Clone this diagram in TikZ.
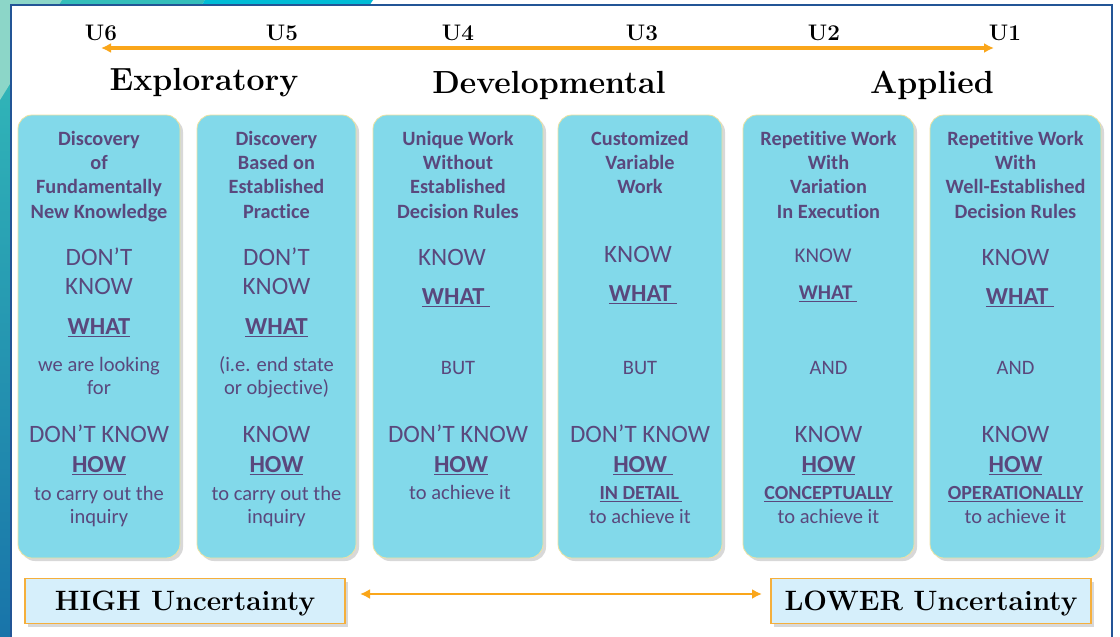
\documentclass[tikz,border=0pt]{standalone}
\usepackage{fontspec}
\newfontfamily\calfont[Ligatures=NoCommon]{Carlito}
\usetikzlibrary{positioning, shadows, arrows.meta}

\definecolor{ink}{RGB}{90,72,125}
\definecolor{boxfill}{RGB}{130,217,234}
\definecolor{boxline}{RGB}{238,226,160}
\definecolor{orng}{RGB}{250,166,26}
\definecolor{lowfill}{RGB}{214,239,251}
\definecolor{lowline}{RGB}{245,175,60}
\definecolor{frame}{RGB}{35,85,150}
\definecolor{teal}{RGB}{52,190,186}
\definecolor{cyanb}{RGB}{0,188,214}
\definecolor{mint}{RGB}{140,214,200}

\begin{document}
\begin{tikzpicture}[x=1pt, y=-1pt,
  column/.style={draw=boxline, line width=0.8pt, fill=boxfill, rounded corners=14pt,
    minimum height=443pt, inner sep=0pt,
    drop shadow={opacity=0.3, shadow xshift=3pt, shadow yshift=-3pt}},
  unc/.style={draw=lowline, line width=1.2pt, fill=lowfill, minimum width=320pt,
    minimum height=45pt, inner sep=0pt, text height=19pt, text depth=0pt,
    font=\bfseries\fontsize{28}{30}\selectfont,
    drop shadow={opacity=0.3, shadow xshift=3pt, shadow yshift=-3pt}},
  lab/.style={inner sep=0pt, text height=15.4pt, text depth=0pt,
    font=\bfseries\fontsize{22.5}{25}\selectfont},
  phase/.style={inner sep=0pt, text height=22pt, text depth=0pt,
    font=\bfseries\fontsize{32}{36}\selectfont},
  head/.style={inner sep=0pt, text=ink, text height=12.9pt, text depth=0pt,
    font=\calfont\bfseries\fontsize{20.3}{22}\selectfont},
  big/.style={inner sep=0pt, text=ink, text height=15.8pt, text depth=0pt,
    font=\calfont\fontsize{25}{27}\selectfont},
  keyw/.style={inner sep=0pt, text=ink, text height=15.5pt, text depth=0pt,
    font=\calfont\bfseries\fontsize{24.5}{26}\selectfont},
  note/.style={inner sep=0pt, text=ink, text height=13pt, text depth=0pt,
    font=\calfont\fontsize{20.5}{22}\selectfont},
  caps/.style={inner sep=0pt, text=ink, text height=12.7pt, text depth=0pt,
    font=\calfont\bfseries\fontsize{20}{22}\selectfont},
  span/.style={draw=orng, line width=3.2pt, {Latex[length=10pt,width=10pt]}-{Latex[length=10pt,width=10pt]}}
]
\useasboundingbox (0,0) rectangle (1120,637);

% Background and frame
\fill[white] (0,0) rectangle (1120,637);
\shade[top color=teal, bottom color=frame!70!cyanb] (0,0) rectangle (12,637);
\fill[teal] (0,0) -- (205,0) -- (201,6) -- (0,6) -- cycle;
\fill[cyanb] (205,0) -- (373,0) -- (369,6) -- (201,6) -- cycle;
\fill[mint] (0,0) -- (62,0) -- (0,100) -- cycle;
\draw[frame, line width=2pt, fill=white] (11,5) rectangle (1112,645);

% Uncertainty scale on top
\node[lab] (u6) at (101,33)  {U6};
\node[lab] (u5) at (282,33)  {U5};
\node[lab] (u4) at (458,33)  {U4};
\node[lab] (u3) at (642,33)  {U3};
\node[lab] (u2) at (824,33)  {U2};
\node[lab] (u1) at (1005,33) {U1};
\coordinate (topL) at (101,48);
\coordinate (topR) at (994,48);
\draw[span] (topL) -- (topR);

\node[phase] (expl) at (204,79)  {Exploratory};
\node[phase] (devl) at (549,82)  {Developmental};
\node[phase] (appl) at (932,82)  {Applied};

% Draw the columns
\node[column, minimum width=162pt] (b1) at (99,336.5)   {};
\node[column, minimum width=159pt] (b2) at (276.5,336.5) {};
\node[column, minimum width=170pt] (b3) at (458,336.5)  {};
\node[column, minimum width=164pt] (b4) at (640,336.5)  {};
\node[column, minimum width=171pt] (b5) at (828.5,336.5) {};
\node[column, minimum width=171pt] (b6) at (1015.5,336.5) {};

% Column 1
\node[head] (c1h1) at (99,139) {Discovery};
\node[head] (c1h2) at (99,163) {of};
\node[head] (c1h3) at (99,187) {Fundamentally};
\node[head] (c1h4) at (99,212) {New Knowledge};
\node[big]  (c1w1) at (99,258) {DON’T};
\node[big]  (c1w2) at (99,287) {KNOW};
\node[keyw] (c1w3) at (99,327) {\underline{WHAT}};
\node[note] (c1w4) at (99,365) {we are looking};
\node[note] (c1w5) at (99,388) {for};
\node[big]  (c1k1) at (99,435) {DON’T KNOW};
\node[keyw] (c1k2) at (99,465) {\underline{HOW}};
\node[note] (c1k3) at (99,494) {to carry out the};
\node[note] (c1k4) at (99,517) {inquiry};

% Column 2
\node[head] (c2h1) at (276.5,139) {Discovery};
\node[head] (c2h2) at (276.5,163) {Based on};
\node[head] (c2h3) at (276.5,187) {Established};
\node[head] (c2h4) at (276.5,212) {Practice};
\node[big]  (c2w1) at (276.5,258) {DON’T};
\node[big]  (c2w2) at (276.5,287) {KNOW};
\node[keyw] (c2w3) at (276.5,327) {\underline{WHAT}};
\node[note] (c2w4) at (276.5,365) {(i.e. end state};
\node[note] (c2w5) at (276.5,388) {or objective)};
\node[big]  (c2k1) at (276.5,435) {KNOW};
\node[keyw] (c2k2) at (276.5,465) {\underline{HOW}};
\node[note] (c2k3) at (276.5,494) {to carry out the};
\node[note] (c2k4) at (276.5,517) {inquiry};

% Column 3
\node[head] (c3h1) at (458,139) {Unique Work};
\node[head] (c3h2) at (458,163) {Without};
\node[head] (c3h3) at (458,187) {Established};
\node[head] (c3h4) at (458,212) {Decision Rules};
\node[big]  (c3w1) at (452,258) {KNOW};
\node[keyw] (c3w2) at (456,297) {\underline{WHAT\ }};
\node[note] (c3w3) at (458,368) {BUT};
\node[big]  (c3k1) at (458,435) {DON’T KNOW};
\node[keyw] (c3k2) at (461,465) {\underline{HOW}};
\node[note] (c3k3) at (460,493) {to achieve it};

% Column 4
\node[head] (c4h1) at (640,139) {Customized};
\node[head] (c4h2) at (640,163) {Variable};
\node[head] (c4h3) at (640,187) {Work};
\node[big]  (c4w1) at (638,255) {KNOW};
\node[keyw] (c4w2) at (643,294) {\underline{WHAT\ }};
\node[note] (c4w3) at (640,368) {BUT};
\node[big]  (c4k1) at (640,435) {DON’T KNOW};
\node[keyw] (c4k2) at (643,465) {\underline{HOW\ }};
\node[caps] (c4k3) at (641,493) {\underline{IN DETAIL\,}};
\node[note] (c4k4) at (640,517) {to achieve it};

% Column 5
\node[head] (c5h1) at (828.5,139) {Repetitive Work};
\node[head] (c5h2) at (828.5,163) {With};
\node[head] (c5h3) at (828.5,187) {Variation};
\node[head] (c5h4) at (828.5,212) {In Execution};
\node[big, font=\calfont\fontsize{21}{23}\selectfont, text height=13.3pt]  (c5w1) at (823,256) {KNOW};
\node[keyw, font=\calfont\bfseries\fontsize{21}{23}\selectfont, text height=13.3pt] (c5w2) at (828,293) {\underline{WHAT\ }};
\node[note] (c5w3) at (828.5,368) {AND};
\node[big]  (c5k1) at (828.5,435) {KNOW};
\node[keyw] (c5k2) at (828.5,465) {\underline{HOW}};
\node[caps] (c5k3) at (828.5,493) {\underline{CONCEPTUALLY}};
\node[note] (c5k4) at (828.5,517) {to achieve it};

% Column 6
\node[head] (c6h1) at (1015.5,139) {Repetitive Work};
\node[head] (c6h2) at (1015.5,163) {With};
\node[head] (c6h3) at (1015.5,187) {Well-Established};
\node[head] (c6h4) at (1015.5,212) {Decision Rules};
\node[big]  (c6w1) at (1015.5,258) {KNOW};
\node[keyw] (c6w2) at (1020,297) {\underline{WHAT\ }};
\node[note] (c6w3) at (1015.5,368) {AND};
\node[big]  (c6k1) at (1015.5,435) {KNOW};
\node[keyw] (c6k2) at (1015.5,465) {\underline{HOW}};
\node[caps] (c6k3) at (1015.5,493) {\underline{OPERATIONALLY}};
\node[note] (c6k4) at (1015.5,517) {to achieve it};

% Uncertainty boxes
\node[unc] (high)  at (185,601)  {HIGH Uncertainty};
\node[unc] (lower) at (931,601) {LOWER Uncertainty};
\coordinate (botL) at (360,594);
\coordinate (botR) at (762,594);
\draw[span, line width=2.8pt] (botL) -- (botR);
\end{tikzpicture}
\end{document}
